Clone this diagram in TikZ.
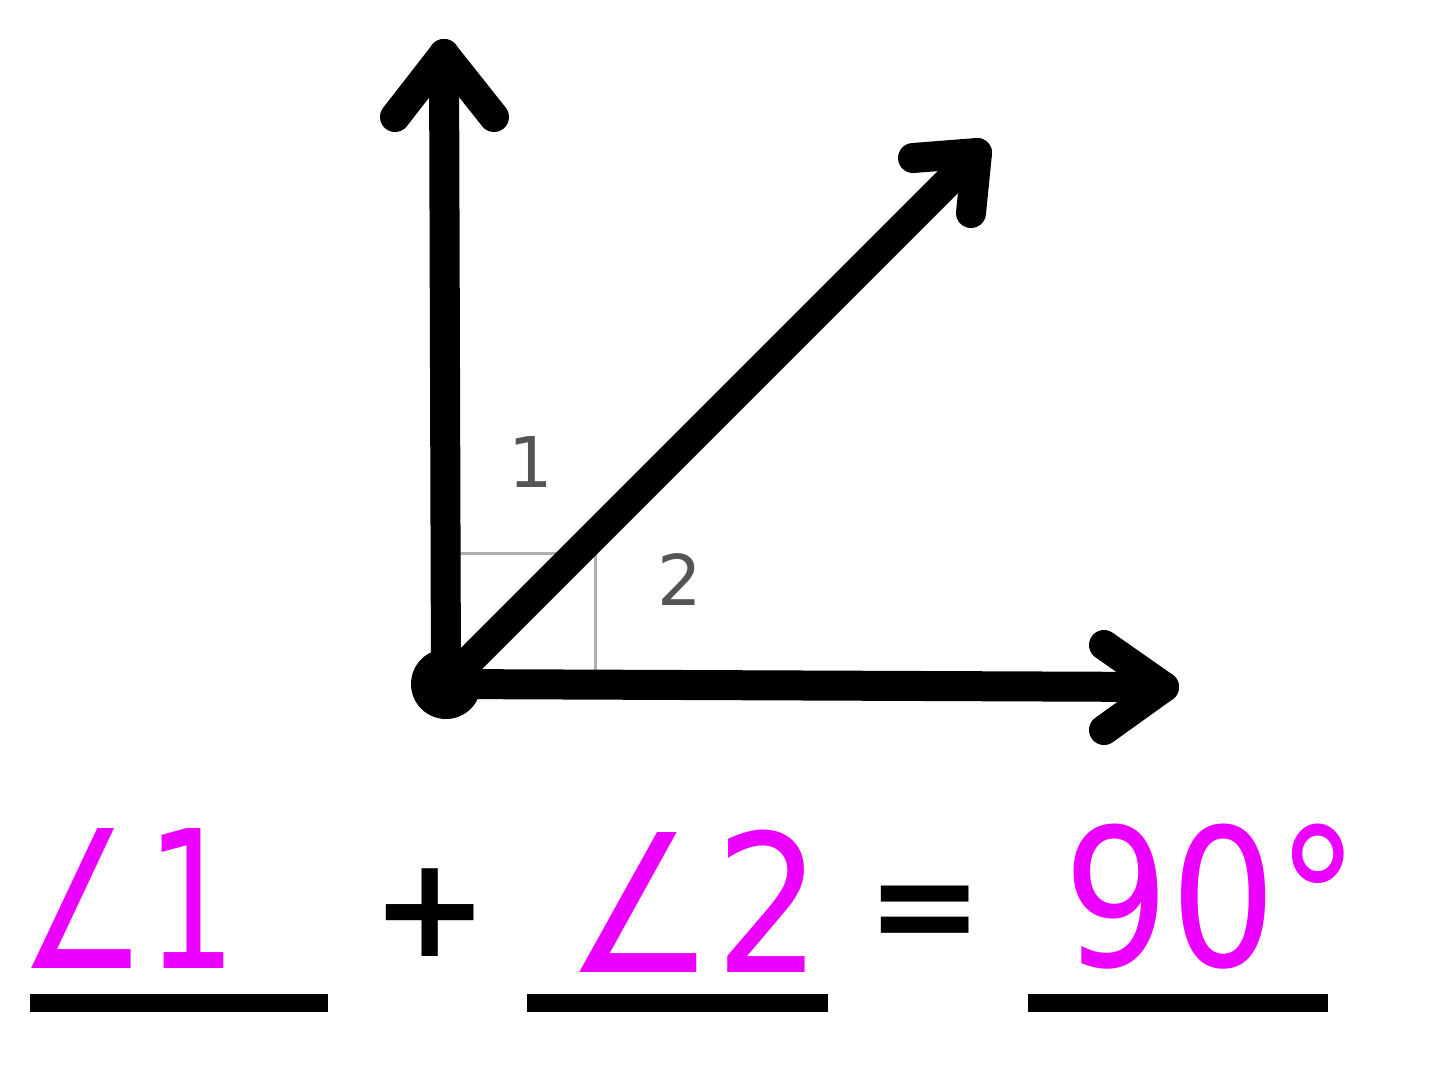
\documentclass[tikz,border=0pt]{standalone}
\usepackage{fontspec}
\setmainfont{DejaVu Sans}
\newfontfamily\handfont[FakeStretch=0.74]{DejaVu Sans}
\newfontfamily\handwide[FakeStretch=0.87]{DejaVu Sans}
\definecolor{mag}{RGB}{235,0,255}
\definecolor{lblgray}{RGB}{85,85,85}
\definecolor{boxgray}{RGB}{175,175,175}
\begin{document}
\begin{tikzpicture}[x=1pt,y=-1pt,
  ray/.style={line width=30pt, line cap=round, line join=round},
  boxline/.style={line width=3pt, draw=boxgray},
  anglelbl/.style={text=lblgray, inner sep=0pt, font=\fontsize{70}{74}\selectfont},
  hand/.style={text=mag, inner sep=0pt, anchor=base, font=\handfont\fontsize{192}{200}\selectfont},
  handw/.style={hand, font=\handwide\fontsize{192}{200}\selectfont},
  opsym/.style={text=black, inner sep=0pt, font=\bfseries\fontsize{140}{150}\selectfont},
  blank/.style={line width=18pt}]
\useasboundingbox (0,0) rectangle (1440,1074);
% vertex and ray ends
\coordinate (O) at (446,684);
\coordinate (up) at (444,54);
\coordinate (upL) at (395,117);
\coordinate (upR) at (494,117);
\coordinate (diag) at (977,153);
\coordinate (diagL) at (913,158);
\coordinate (diagR) at (971,213);
\coordinate (right) at (1164,687);
\coordinate (rightU) at (1104,645);
\coordinate (rightD) at (1104,730);
% right-angle marks
\coordinate (bA) at (458,553);
\coordinate (bB) at (595,553);
\coordinate (bC) at (595,672);
\draw[boxline] (bA) -- (bB) -- (bC);
% rays
\draw[ray] (O) -- (up);
\draw[ray] (upL) -- (up) -- (upR);
\draw[ray] (O) -- (diag);
\draw[ray] (diagL) -- (diag) -- (diagR);
\draw[ray] (O) -- (right);
\draw[ray] (rightU) -- (right) -- (rightD);
\fill (O) circle (35pt);
% angle labels
\node[anglelbl] (l1) at (531,462) {1};
\node[anglelbl] (l2) at (680,580) {2};
% equation
\node[hand] (a1) at (128,968) {∠1};
\node[opsym] (plus) at (430,913) {+};
\node[handw] (a2) at (694,972) {∠2};
\node[opsym] (eq) at (925,920) {=};
\node[handw] (deg) at (1212,966) {90°};
\coordinate (u1a) at (30,1003); \coordinate (u1b) at (328,1003);
\coordinate (u2a) at (527,1003); \coordinate (u2b) at (828,1003);
\coordinate (u3a) at (1028,1003); \coordinate (u3b) at (1328,1003);
\draw[blank] (u1a) -- (u1b);
\draw[blank] (u2a) -- (u2b);
\draw[blank] (u3a) -- (u3b);
\end{tikzpicture}
\end{document}
